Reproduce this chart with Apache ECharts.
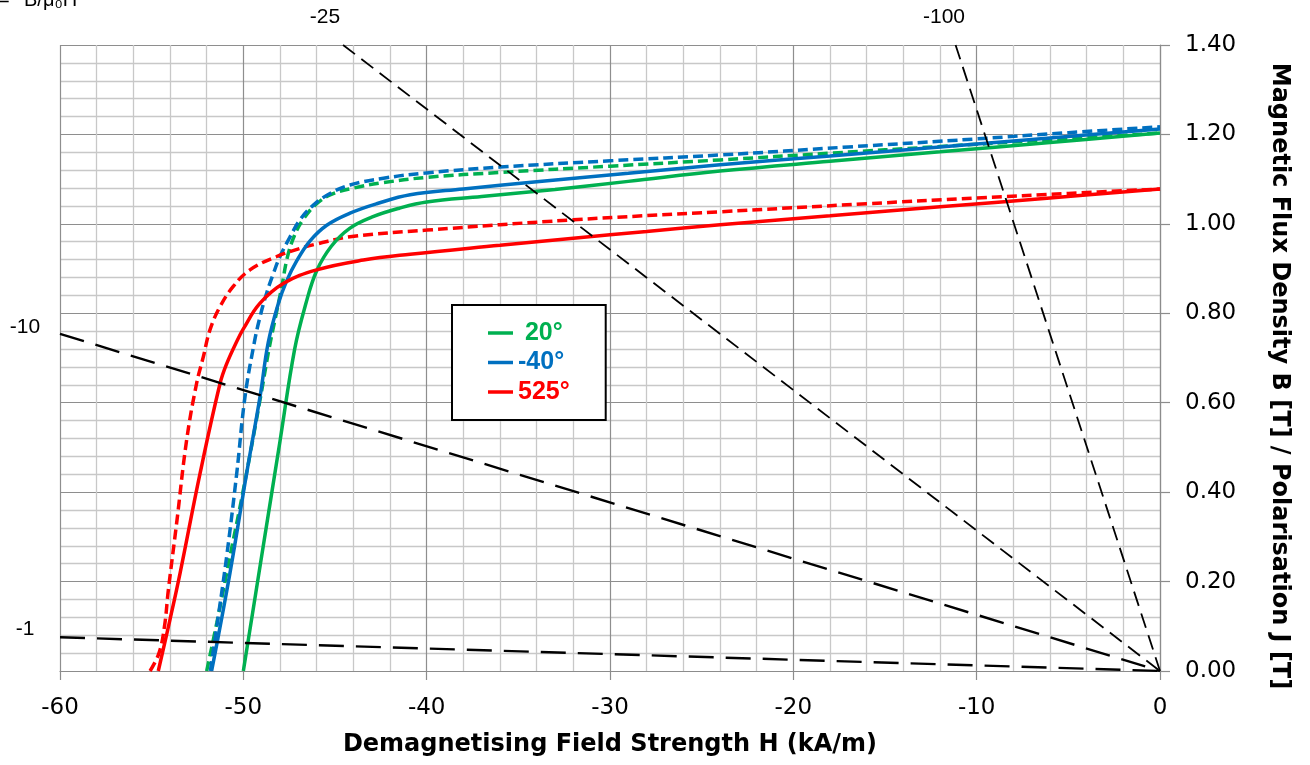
<!DOCTYPE html>
<html><head><meta charset="utf-8">
<script src="https://cdn.jsdelivr.net/npm/echarts@6/dist/echarts.min.js"></script>
<style>html,body{margin:0;padding:0;background:#fff}#c{width:1310px;height:765px}</style>
</head><body><div id="c"></div>
<script>
// ---- data (H in kA/m, B/J in T) ----
const tempNames = [' 20°', '-40°', '525°'];
const tempColors = ['#00B050', '#0070C0', '#FF0000'];

// 20° : flux density B (solid)
const g20BH = [-50, -49, -48, -47.2, -46.6, -46, -45.2, -44.2, -43, -41.5, -40, -37, -33, -29, -24, -18, -12, -6, 0];
const g20B  = [0, 0.257, 0.514, 0.72, 0.82, 0.895, 0.95, 0.99, 1.015, 1.035, 1.049, 1.061, 1.077, 1.095, 1.118, 1.14, 1.161, 1.182, 1.203];
// 20° : polarisation J (dashed)
const g20JH = [-52.0, -51.45, -50.73, -50.0, -49.09, -48.6, -48.2, -47.9, -47.6, -47.2, -46.7, -46.0, -45.2, -44.0, -42.4, -40, -36, -30, -24, -18, -12, -6, 0];
const g20J  = [0, 0.107, 0.256, 0.405, 0.606, 0.72, 0.80, 0.86, 0.925, 0.975, 1.012, 1.045, 1.066, 1.080, 1.092, 1.104, 1.115, 1.129, 1.143, 1.158, 1.173, 1.188, 1.203];

// -40° : B (solid)
const b40BH = [-51.73, -50.73, -49.82, -49.09, -48.64, -48.09, -47.64, -47.09, -46.36, -45.45, -44.18, -42.73, -40.9, -38, -34, -29, -24, -18, -12, -6, 0];
const b40B  = [0, 0.219, 0.442, 0.613, 0.735, 0.822, 0.872, 0.917, 0.962, 0.997, 1.024, 1.045, 1.065, 1.078, 1.094, 1.113, 1.132, 1.152, 1.172, 1.192, 1.212];
// -40° : J (dashed)
const b40JH = [-51.8, -51.42, -50.91, -50.36, -49.91, -49.4, -49.09, -48.73, -48.36, -48.0, -47.45, -46.91, -46.18, -45.27, -44.18, -42.36, -40, -36, -30, -24, -17, -10, -5, 0];
const b40J  = [0, 0.107, 0.256, 0.442, 0.613, 0.735, 0.792, 0.845, 0.889, 0.927, 0.971, 1.009, 1.042, 1.068, 1.087, 1.102, 1.114, 1.127, 1.141, 1.154, 1.172, 1.19, 1.204, 1.217];

// 525° : B (solid)
const r525BH = [-54.64, -54.0, -53.45, -52.36, -51.27, -50.9, -50.36, -50.0, -49.1, -47.8, -46.0, -43.45, -40.9, -36, -32, -28, -24, -18, -12, -6, 0];
const r525B  = [0, 0.115, 0.219, 0.442, 0.643, 0.688, 0.737, 0.765, 0.822, 0.867, 0.897, 0.919, 0.932, 0.952, 0.968, 0.983, 0.998, 1.018, 1.038, 1.058, 1.078];
// 525° : J (dashed)
const r525JH = [-55.09, -54.6, -54.3, -54.09, -53.64, -53.09, -52.55, -52.18, -51.82, -51.27, -50.55, -49.64, -48.18, -46.91, -46, -44.18, -40, -32, -24, -16, -10, -5, 0];
const r525J  = [0, 0.04, 0.1, 0.181, 0.33, 0.517, 0.643, 0.703, 0.763, 0.815, 0.86, 0.897, 0.927, 0.945, 0.955, 0.971, 0.986, 1.009, 1.027, 1.045, 1.058, 1.068, 1.078];

// permeance coefficient lines B/μ0H through the origin (end points)
const pcNames = ['-1', '-10', '-25', '-100'];
const pcH = [[-60, 0], [-60, 0], [-44.56, 0], [-11.15, 0]];
const pcB = [[0.0754, 0], [0.754, 0], [1.4, 0], [1.4, 0]];

const xMin = -60, xMax = 0, xStep = 10;
const yMin = 0, yMax = 1.4, yStep = 0.2;

// ---- chart ----
function pairs(h, b) { return h.map((x, i) => [x, b[i]]); }

const curveSets = [
  [g20JH, g20J, 0, true], [b40JH, b40J, 1, true], [r525JH, r525J, 2, true],
  [g20BH, g20B, 0, false], [b40BH, b40B, 1, false], [r525BH, r525B, 2, false]
];

const series = curveSets.map(([h, b, k, dashed]) => ({
  type: 'line',
  name: dashed ? tempNames[k] + ' J' : tempNames[k],
  data: pairs(h, b),
  showSymbol: false,
  smooth: 0.4,
  color: tempColors[k],
  lineStyle: { color: tempColors[k], width: 3.5, type: dashed ? [10, 5] : 'solid', cap: 'butt' },
  silent: true,
  z: 3
}));

pcNames.forEach((n, i) => {
  const steep = i >= 2;
  series.push({
    type: 'line',
    name: 'Pc ' + n,
    data: pairs(pcH[i], pcB[i]),
    showSymbol: false,
    lineStyle: { color: '#000', width: steep ? 1.8 : 2.4, type: steep ? [15, 8] : [25, 12] },
    silent: true,
    z: 4
  });
});

const gridCol = '#c8c8c8', majorCol = '#8e8e8e';
const option = {
  animation: false,
  backgroundColor: '#fff',
  grid: { left: 60, right: 150, top: 45, bottom: 94, containLabel: false },
  xAxis: {
    type: 'value', min: xMin, max: xMax, interval: xStep,
    name: 'Demagnetising Field Strength H (kA/m)',
    nameLocation: 'middle', nameGap: 62,
    nameTextStyle: { fontFamily: 'DejaVu Sans', fontWeight: 'bold', fontSize: 24, color: '#000' },
    axisLine: { show: true, onZero: false, lineStyle: { color: '#8c8c8c', width: 1.2 } },
    axisTick: { show: true, length: 9, lineStyle: { color: '#8c8c8c', width: 1.2 } },
    axisLabel: { margin: 26, fontFamily: 'DejaVu Sans', fontSize: 23, color: '#000' },
    splitLine: { show: true, lineStyle: { color: majorCol, width: 1.2 } },
    minorTick: { show: false, splitNumber: 5 },
    minorSplitLine: { show: true, lineStyle: { color: gridCol, width: 1.3 } }
  },
  yAxis: {
    type: 'value', min: yMin, max: yMax, interval: yStep, position: 'right',
    axisLine: { show: true, lineStyle: { color: '#8c8c8c', width: 1.2 } },
    axisTick: { show: true, length: 10, lineStyle: { color: '#8c8c8c', width: 1.2 } },
    axisLabel: { margin: 25, fontFamily: 'DejaVu Sans', fontSize: 23, color: '#000',
      formatter: v => v.toFixed(2) },
    splitLine: { show: true, lineStyle: { color: majorCol, width: 1.2 } },
    minorTick: { show: false, splitNumber: 5 },
    minorSplitLine: { show: true, lineStyle: { color: gridCol, width: 1.3 } }
  },
  legend: {
    orient: 'vertical', left: 452, top: 305,
    data: tempNames.map((n, k) => ({ name: n, textStyle: { color: tempColors[k] } })),
    icon: 'rect', itemWidth: 25, itemHeight: 3.5, itemGap: 4.5,
    padding: [15.5, 36, 15.5, 36],
    backgroundColor: '#fff', borderColor: '#000', borderWidth: 2,
    textStyle: { fontFamily: 'Liberation Sans', fontWeight: 'bold', fontSize: 25, lineHeight: 25 },
    selectedMode: false
  },
  graphic: [
    { type: 'text', x: -2, y: 0, style: { text: '=', font: '20px "Liberation Sans"', fill: '#000', verticalAlign: 'middle' } },
    { type: 'text', x: 24, y: 0, style: { text: 'B/μ₀H', font: '20px "Liberation Sans"', fill: '#000', verticalAlign: 'middle' } },
    { type: 'text', x: 325, y: 17, style: { text: '-25', font: '21px "Liberation Sans"', fill: '#000', align: 'center', verticalAlign: 'middle' } },
    { type: 'text', x: 944, y: 17, style: { text: '-100', font: '21px "Liberation Sans"', fill: '#000', align: 'center', verticalAlign: 'middle' } },
    { type: 'text', x: 25, y: 327, style: { text: '-10', font: '21px "Liberation Sans"', fill: '#000', align: 'center', verticalAlign: 'middle' } },
    { type: 'text', x: 25, y: 629, style: { text: '-1', font: '21px "Liberation Sans"', fill: '#000', align: 'center', verticalAlign: 'middle' } },
    { type: 'text', x: 1279, y: 376, rotation: -Math.PI / 2,
      style: { text: 'Magnetic Flux Density B [T] / Polarisation J [T]', font: 'bold 24px "DejaVu Sans"', fill: '#000', align: 'center', verticalAlign: 'middle' } }
  ],
  series
};

const chart = echarts.init(document.getElementById('c'), null, { renderer: 'canvas' });
chart.setOption(option);
</script>
</body></html>
